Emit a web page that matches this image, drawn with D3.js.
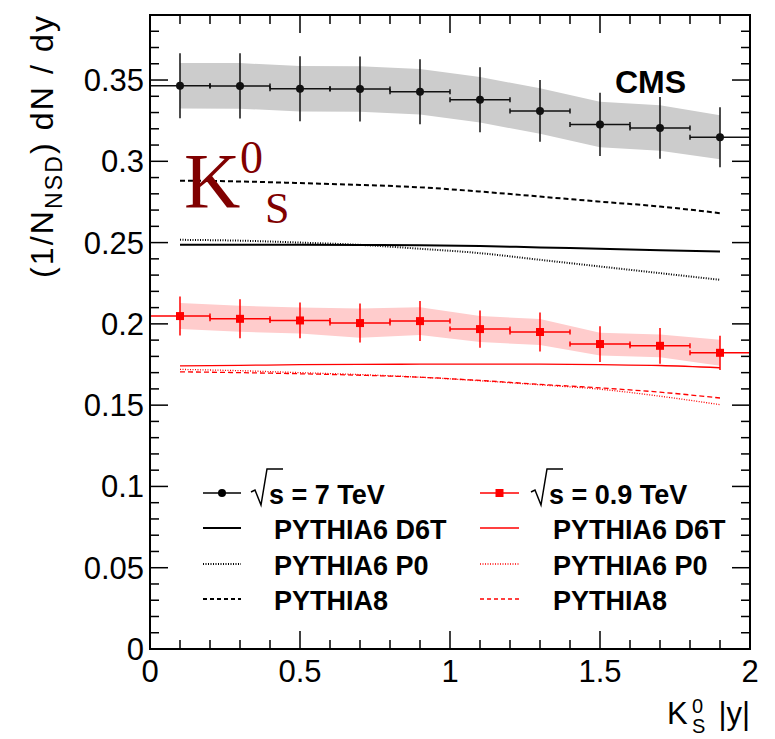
<!DOCTYPE html>
<html>
<head>
<meta charset="utf-8">
<script src="https://cdn.jsdelivr.net/npm/d3@7"></script>
<style>
  body { margin: 0; background: #fff; }
  svg { display: block; }
</style>
</head>
<body>
<svg id="chart" width="775" height="739"></svg>
<script>
// K0S rapidity distributions, CMS, NSD events
const rapidity = [0.1, 0.3, 0.5, 0.7, 0.9, 1.1, 1.3, 1.5, 1.7, 1.9];
const binHalfWidth = 0.1;

// sqrt(s) = 7 TeV
const yield7 = [0.3465, 0.3464, 0.3446, 0.3445, 0.3428, 0.3378, 0.3310, 0.3227, 0.3205, 0.3148];
const stat7  = [0.020, 0.020, 0.020, 0.020, 0.020, 0.020, 0.019, 0.0195, 0.019, 0.0185];
const syst7  = [0.014, 0.014, 0.014, 0.014, 0.014, 0.014, 0.014, 0.014, 0.014, 0.0135];

// sqrt(s) = 0.9 TeV
const yield09 = [0.2048, 0.2031, 0.2021, 0.2005, 0.2017, 0.1968, 0.1950, 0.1876, 0.1865, 0.1822];
const stat09  = [0.012, 0.012, 0.011, 0.012, 0.0123, 0.0115, 0.012, 0.011, 0.011, 0.0105];
const syst09  = [0.008, 0.008, 0.008, 0.009, 0.0085, 0.008, 0.008, 0.007, 0.007, 0.008];

// Generator predictions, 7 TeV
const d6t7 = [0.2487, 0.2487, 0.2486, 0.2485, 0.2484, 0.2479, 0.2470, 0.2462, 0.2453, 0.2445];
const p0_7 = [0.2517, 0.2512, 0.2500, 0.2486, 0.2462, 0.2435, 0.2394, 0.2353, 0.2312, 0.2271];
const py8_7 = [0.2881, 0.2876, 0.2866, 0.2855, 0.2840, 0.2814, 0.2783, 0.2752, 0.2722, 0.2681];

// Generator predictions, 0.9 TeV
const d6t09 = [0.1742, 0.1745, 0.1749, 0.1751, 0.1752, 0.1753, 0.1752, 0.1749, 0.1744, 0.1730];
const p0_09 = [0.1720, 0.1712, 0.1700, 0.1688, 0.1672, 0.1650, 0.1625, 0.1598, 0.1555, 0.1503];
const py8_09 = [0.1705, 0.1700, 0.1693, 0.1684, 0.1672, 0.1652, 0.1628, 0.1606, 0.1580, 0.1544];

// Axis ticks and labels
const xMajor = [0, 0.5, 1, 1.5, 2];
const xLabels = ["0", "0.5", "1", "1.5", "2"];
const yMajor = [0, 0.05, 0.1, 0.15, 0.2, 0.25, 0.3, 0.35];
const yLabels = ["0", "0.05", "0.1", "0.15", "0.2", "0.25", "0.3", "0.35"];

const legendRows = [
  { label7: "s = 7 TeV", label09: "s = 0.9 TeV", kind: "data" },
  { label7: "PYTHIA6 D6T", label09: "PYTHIA6 D6T", kind: "solid" },
  { label7: "PYTHIA6 P0", label09: "PYTHIA6 P0", kind: "dotted" },
  { label7: "PYTHIA8", label09: "PYTHIA8", kind: "dashed" }
];

const SANS = "'Liberation Sans', Arial, Helvetica, sans-serif";
const SERIF = "'Liberation Serif', 'Times New Roman', serif";
const RED = "#ff0000";

const frame = { left: 150, right: 750, top: 15, bottom: 649 };
const x = d3.scaleLinear().domain([0, 2]).range([frame.left, frame.right]);
const y = d3.scaleLinear().domain([0, 0.39]).range([frame.bottom, frame.top]);

const svg = d3.select("#chart");

svg.append("defs").append("clipPath").attr("id", "plotArea")
  .append("rect")
  .attr("x", frame.left).attr("y", frame.top)
  .attr("width", frame.right - frame.left).attr("height", frame.bottom - frame.top);

const plot = svg.append("g").attr("clip-path", "url(#plotArea)");

// Systematic bands
function band(vals, sys, fill) {
  const pts = rapidity.map((r, i) => ({ r, v: vals[i], s: sys[i] }));
  plot.append("path")
    .datum(pts)
    .attr("fill", fill)
    .attr("stroke", "none")
    .attr("d", d3.area().x(d => x(d.r)).y0(d => y(d.v - d.s)).y1(d => y(d.v + d.s)));
}
band(yield7, syst7, "#cccccc");
band(yield09, syst09, "#ffcccc");

// Model curves
const lineGen = d3.line().x((d, i) => x(rapidity[i])).y(d => y(d)).curve(d3.curveMonotoneX);
function curve(vals, color, width, dash) {
  plot.append("path")
    .datum(vals)
    .attr("fill", "none")
    .attr("stroke", color)
    .attr("stroke-width", width)
    .attr("stroke-dasharray", dash)
    .attr("d", lineGen);
}
curve(py8_7, "#000", 2, "5,3");
curve(p0_7, "#000", 2, "1,1.5");
curve(d6t7, "#000", 2, null);
curve(py8_09, RED, 1.3, "5,3");
curve(p0_09, RED, 1.3, "1,1.5");
curve(d6t09, RED, 1.3, null);

// Data points with statistical error bars
function dataSeries(vals, stat, color, marker) {
  const g = plot.append("g").attr("stroke", color).attr("stroke-width", 1.5);
  rapidity.forEach((r, i) => {
    const v = vals[i];
    g.append("line")
      .attr("x1", x(r - binHalfWidth)).attr("x2", x(r + binHalfWidth))
      .attr("y1", y(v)).attr("y2", y(v));
    [r - binHalfWidth, r + binHalfWidth].forEach(e => {
      g.append("line")
        .attr("x1", x(e)).attr("x2", x(e))
        .attr("y1", y(v) - 2.5).attr("y2", y(v) + 2.5);
    });
    g.append("line")
      .attr("x1", x(r)).attr("x2", x(r))
      .attr("y1", y(v + stat[i])).attr("y2", y(v - stat[i]));
  });
  const m = plot.append("g").attr("fill", color);
  rapidity.forEach((r, i) => {
    if (marker === "circle") {
      m.append("circle").attr("cx", x(r)).attr("cy", y(vals[i])).attr("r", 4);
    } else {
      m.append("rect").attr("x", x(r) - 4).attr("y", y(vals[i]) - 4)
        .attr("width", 8).attr("height", 8);
    }
  });
}
dataSeries(yield7, stat7, "#111", "circle");
dataSeries(yield09, stat09, RED, "square");

// Frame and ticks on all four sides
const axes = svg.append("g").attr("stroke", "#000");
axes.append("rect")
  .attr("x", frame.left).attr("y", frame.top)
  .attr("width", frame.right - frame.left).attr("height", frame.bottom - frame.top)
  .attr("fill", "none").attr("stroke-width", 2);

const xMinor = d3.range(0, 21).map(k => k / 10);
xMinor.forEach(v => {
  const isMajor = xMajor.some(t => Math.abs(t - v) < 1e-9);
  const len = isMajor ? 18 : 9;
  axes.append("line").attr("x1", x(v)).attr("x2", x(v))
    .attr("y1", frame.bottom).attr("y2", frame.bottom - len).attr("stroke-width", 1.5);
  axes.append("line").attr("x1", x(v)).attr("x2", x(v))
    .attr("y1", frame.top).attr("y2", frame.top + len).attr("stroke-width", 1.5);
});
const yMinor = d3.range(0, 40).map(k => k / 100);
yMinor.forEach(v => {
  const isMajor = yMajor.some(t => Math.abs(t - v) < 1e-9);
  const len = isMajor ? 18 : 9;
  axes.append("line").attr("y1", y(v)).attr("y2", y(v))
    .attr("x1", frame.left).attr("x2", frame.left + len).attr("stroke-width", 1.5);
  axes.append("line").attr("y1", y(v)).attr("y2", y(v))
    .attr("x1", frame.right).attr("x2", frame.right - len).attr("stroke-width", 1.5);
});

// Tick labels
const labels = svg.append("g").attr("font-family", SANS).attr("font-size", 31).attr("fill", "#000");
xMajor.forEach((v, i) => {
  labels.append("text").attr("x", x(v)).attr("y", 682)
    .attr("text-anchor", "middle").text(xLabels[i]);
});
yMajor.forEach((v, i) => {
  labels.append("text").attr("x", 144).attr("y", y(v) + 11)
    .attr("text-anchor", "end").text(yLabels[i]);
});

// Axis titles
const xt = svg.append("g").attr("font-family", SANS).attr("fill", "#000");
xt.append("text").attr("x", 667).attr("y", 724).attr("font-size", 31).text("K");
xt.append("text").attr("x", 692).attr("y", 713).attr("font-size", 20).text("0");
xt.append("text").attr("x", 692).attr("y", 733).attr("font-size", 20).text("S");
xt.append("text").attr("x", 750).attr("y", 724).attr("font-size", 31)
  .attr("text-anchor", "end").text("|y|");

const yt = svg.append("text")
  .attr("transform", "translate(53,278) rotate(-90)")
  .attr("font-family", SANS).attr("font-size", 32).attr("fill", "#000")
  .attr("text-anchor", "start")
  .attr("textLength", 262).attr("lengthAdjust", "spacing");
yt.append("tspan").text("(1/N");
yt.append("tspan").attr("font-size", 23).attr("dy", 9).text("NSD");
yt.append("tspan").attr("dy", -9).text(") dN / dy");

// Experiment label
svg.append("text").attr("x", 615).attr("y", 93)
  .attr("font-family", SANS).attr("font-weight", "bold").attr("font-size", 32)
  .attr("fill", "#000").text("CMS");

// Particle label
const kl = svg.append("g").attr("font-family", SERIF).attr("fill", "#800000");
kl.append("text").attr("x", 184).attr("y", 207).attr("font-size", 78).text("K");
kl.append("text").attr("x", 240).attr("y", 173).attr("font-size", 46).text("0");
kl.append("text").attr("x", 265).attr("y", 223).attr("font-size", 44).text("S");

// Legend
const legend = svg.append("g");
const rowBase = [504, 539, 575, 610];
const cols = [
  { x0: 203, x1: 241, textX: 274, color: "#000", marker: "circle", key: "label7", sqrtX: 251 },
  { x0: 480, x1: 519, textX: 553, color: RED, marker: "square", key: "label09", sqrtX: 531 }
];
legendRows.forEach((row, ri) => {
  const base = rowBase[ri];
  const cy = base - 11;
  cols.forEach(c => {
    const dash = row.kind === "dotted" ? "1,1.5" : row.kind === "dashed" ? "4,3" : null;
    const w = c.color === RED && row.kind !== "data" ? 1.3 : (row.kind === "data" ? 1.5 : 2);
    legend.append("line")
      .attr("x1", c.x0).attr("x2", c.x1).attr("y1", cy).attr("y2", cy)
      .attr("stroke", c.color).attr("stroke-width", w).attr("stroke-dasharray", dash);
    if (row.kind === "data") {
      const mx = (c.x0 + c.x1) / 2;
      if (c.marker === "circle") {
        legend.append("circle").attr("cx", mx).attr("cy", cy).attr("r", 4).attr("fill", c.color);
      } else {
        legend.append("rect").attr("x", mx - 4).attr("y", cy - 4)
          .attr("width", 8).attr("height", 8).attr("fill", c.color);
      }
      // radical sign over s
      const sx = c.sqrtX;
      legend.append("path")
        .attr("d", `M${sx},${cy - 1} L${sx + 4},${cy - 3} L${sx + 10},${base + 1} L${sx + 16},${cy - 24} L${sx + 32},${cy - 24}`)
        .attr("fill", "none").attr("stroke", "#000").attr("stroke-width", 1.5);
      legend.append("text").attr("x", sx + 18).attr("y", base)
        .attr("font-family", SANS).attr("font-weight", "bold").attr("font-size", 27)
        .attr("fill", "#000").text(row[c.key]);
    } else {
      legend.append("text").attr("x", c.textX).attr("y", base)
        .attr("font-family", SANS).attr("font-weight", "bold").attr("font-size", 27)
        .attr("fill", "#000").text(row[c.key]);
    }
  });
});
</script>
</body>
</html>
